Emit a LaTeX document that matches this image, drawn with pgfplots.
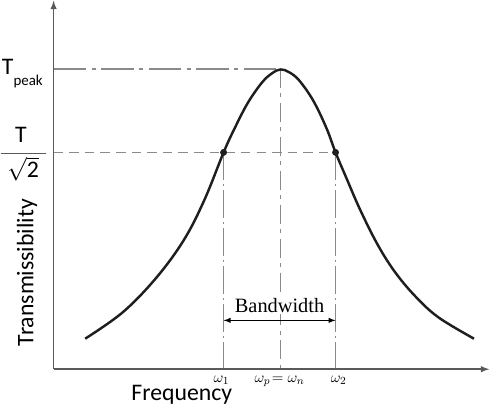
\documentclass[border=0pt]{standalone}
\usepackage{pgfplots}
\pgfplotsset{compat=1.18}
\usepackage{fontspec}
\setmainfont{Liberation Serif}
\newfontfamily\carlito{Carlito}
\definecolor{axgray}{HTML}{5A5A5A}
\definecolor{lngray}{HTML}{8A8A8A}
\definecolor{curve}{HTML}{1E1E1E}
\begin{document}
\begin{tikzpicture}
\begin{axis}[
  x=0.75pt, y=0.75pt,
  xmin=0, xmax=490, ymin=0, ymax=402,
  axis lines=none, clip=false,
  scale only axis,
]
% reference lines
\addplot[lngray, line width=1pt, dash pattern=on 24pt off 4pt on 3pt off 4pt] coordinates {(62,329) (285,329)};
\addplot[lngray, line width=1pt, dash pattern=on 14pt off 4pt on 3pt off 4pt] coordinates {(285,329) (285,34)};
\addplot[lngray, line width=1pt, dash pattern=on 7pt off 4.5pt] coordinates {(62,247) (339,247)};
\addplot[lngray, line width=1pt, dash pattern=on 20pt off 3pt on 2pt off 3pt] coordinates {(229,247) (229,34)};
\addplot[lngray, line width=1pt, dash pattern=on 20pt off 3pt on 2pt off 3pt] coordinates {(339,247) (339,34)};
% axes
\addplot[axgray, line width=1.1pt, -latex] coordinates {(62,34) (62,396)};
\addplot[axgray, line width=1.1pt, -latex] coordinates {(62,34) (490,34)};
% curve
\addplot[curve, line width=1.8pt, smooth, tension=0.6] coordinates {
 (93,64) (130,90) (163,124) (190,161) (210,200) (229,247) (240,271)
 (253,296) (267,316) (277,325) (285,328.5) (293,326) (303,318) (317,298)
 (330,271) (339,247) (350,221) (363,191) (380,157) (397,130) (417,106)
 (440,85) (475,64)};
\addplot[only marks, mark=*, mark size=2.3pt, curve] coordinates {(229,247) (339,247)};
% bandwidth
\node[fill=white, inner sep=1pt, font=\fontsize{15}{15}\selectfont] at (284,97) {Bandwidth};
\addplot[black, line width=0.8pt, latex-latex] coordinates {(229,82) (339,82)};
% left labels
\node[anchor=base west, inner sep=0pt, font=\carlito\fontsize{17.5}{17.5}\selectfont] at (11,324) {T\raisebox{-0.5em}{\fontsize{11}{11}\selectfont peak}};
\node[anchor=base, inner sep=0pt, font=\carlito\fontsize{17.5}{17.5}\selectfont] at (30,257) {T};
\addplot[axgray, line width=1pt] coordinates {(10,246) (55,246)};
\node[anchor=north, inner sep=0pt, font=\carlito\fontsize{17.5}{17.5}\selectfont] at (32,243) {$\sqrt{\hbox{\carlito\fontsize{17.5}{17.5}\selectfont 2}}$};
\node[rotate=90, inner sep=0pt, font=\carlito\fontsize{17.5}{17.5}\selectfont] at (36,129) {Transmissibility};
\node[anchor=base, inner sep=0pt, font=\carlito\fontsize{17.5}{17.5}\selectfont] at (188,3) {Frequency};
% omega labels
\node[anchor=base, inner sep=0pt, font=\fontsize{11}{11}\selectfont] at (227,21) {$\omega_1$};
\node[anchor=base, inner sep=0pt, font=\fontsize{11}{11}\selectfont] at (284,21) {$\omega_p\!= \omega_n$};
\node[anchor=base, inner sep=0pt, font=\fontsize{11}{11}\selectfont] at (342,21) {$\omega_2$};
\end{axis}
\end{tikzpicture}
\end{document}
